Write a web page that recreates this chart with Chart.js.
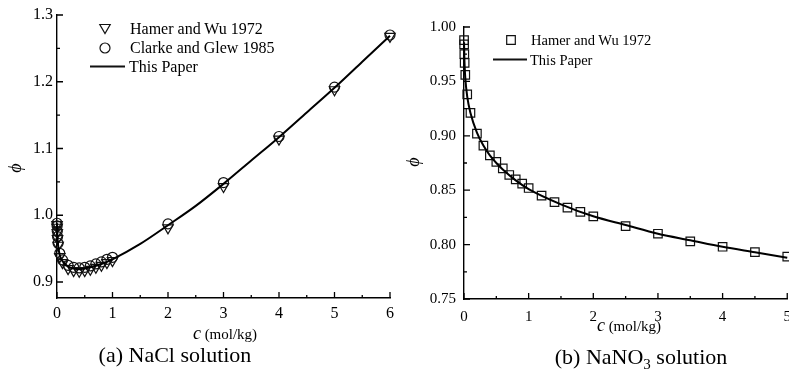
<!DOCTYPE html>
<html>
<head>
<meta charset="utf-8">
<script src="https://cdn.jsdelivr.net/npm/chart.js@4/dist/chart.umd.min.js"></script>
<style>
body { margin:0; width:789px; height:373px; overflow:hidden; background:#fff; position:relative;
       font-family:"Liberation Serif","Times New Roman",serif; color:#000; }
canvas { position:absolute; top:0; }
.t { position:absolute; white-space:nowrap; line-height:1; transform:translate(0,-50%); }
.c { transform:translate(-50%,-50%); }
.phi { position:absolute; font-style:italic; font-size:18px; line-height:1; transform:translate(-50%,-50%) rotate(-90deg); }
</style>
</head>
<body>
<canvas id="graphA" width="400" height="373" style="left:0"></canvas>
<canvas id="graphB" width="400" height="373" style="left:400px"></canvas>

<div class="t" style="left:130px;top:29px;font-size:16px">Hamer and Wu 1972</div>
<div class="t" style="left:130px;top:48px;font-size:16px">Clarke and Glew 1985</div>
<div class="t" style="left:129px;top:66.5px;font-size:16px">This Paper</div>
<div class="t" style="left:531px;top:40px;font-size:14.5px">Hamer and Wu 1972</div>
<div class="t" style="left:530px;top:59.5px;font-size:14.5px">This Paper</div>

<div class="t c" style="left:225px;top:333px;font-size:15px"><i style="font-size:18px">c</i> (mol/kg)</div>
<div class="t c" style="left:629px;top:325px;font-size:15px"><i style="font-size:18px">c</i> (mol/kg)</div>
<div class="t c" style="left:175px;top:355px;font-size:22px">(a) NaCl solution</div>
<div class="t c" style="left:641px;top:357px;font-size:22px">(b) NaNO<sub style="font-size:15px;line-height:0">3</sub> solution</div>
<div class="phi" style="left:15px;top:168px">ϕ</div>
<div class="phi" style="left:413px;top:162px">ϕ</div>

<script>
// (a) NaCl
const naclX = [0.001, 0.002, 0.005, 0.01, 0.02, 0.05, 0.1, 0.2, 0.3, 0.4, 0.5, 0.6, 0.7, 0.8, 0.9, 1.0, 2.0, 3.0, 4.0, 5.0, 6.0];
const naclHamer = [0.986, 0.982, 0.974, 0.965, 0.955, 0.938, 0.929, 0.920, 0.917, 0.916, 0.917, 0.919, 0.922, 0.925, 0.929, 0.932, 0.981, 1.043, 1.114, 1.188, 1.268];
const naclClarke = [0.988, 0.984, 0.976, 0.968, 0.958, 0.943, 0.933, 0.925, 0.922, 0.921, 0.922, 0.924, 0.927, 0.930, 0.934, 0.937, 0.987, 1.049, 1.118, 1.192, 1.270];
const naclModelX = [0.001, 0.005, 0.01, 0.02, 0.05, 0.1, 0.2, 0.3, 0.4, 0.5, 0.6, 0.8, 1.0, 1.5, 2.0, 2.5, 3.0, 3.5, 4.0, 4.5, 5.0, 5.5, 6.0];
const naclModel = [0.988, 0.975, 0.966, 0.955, 0.940, 0.931, 0.923, 0.920, 0.919, 0.920, 0.922, 0.927, 0.934, 0.957, 0.985, 1.014, 1.047, 1.082, 1.117, 1.154, 1.191, 1.230, 1.269];
const naclYTicks = [0.9, 1.0, 1.1, 1.2, 1.3];
const naclXTicks = [0, 1, 2, 3, 4, 5, 6];

// (b) NaNO3
const nano3X = [0.001, 0.002, 0.005, 0.01, 0.02, 0.05, 0.1, 0.2, 0.3, 0.4, 0.5, 0.6, 0.7, 0.8, 0.9, 1.0, 1.2, 1.4, 1.6, 1.8, 2.0, 2.5, 3.0, 3.5, 4.0, 4.5, 5.0];
const nano3Hamer = [0.988, 0.984, 0.975, 0.967, 0.956, 0.938, 0.921, 0.902, 0.891, 0.882, 0.876, 0.870, 0.864, 0.860, 0.856, 0.852, 0.845, 0.839, 0.834, 0.830, 0.826, 0.817, 0.810, 0.803, 0.798, 0.793, 0.789];
const nano3ModelX = [0.001, 0.005, 0.01, 0.02, 0.05, 0.1, 0.2, 0.3, 0.4, 0.5, 0.6, 0.8, 1.0, 1.5, 2.0, 2.5, 3.0, 3.5, 4.0, 4.5, 5.0];
const nano3Model = [0.986, 0.973, 0.964, 0.953, 0.936, 0.921, 0.903, 0.891, 0.882, 0.875, 0.869, 0.859, 0.851, 0.837, 0.826, 0.818, 0.810, 0.804, 0.798, 0.793, 0.788];
const nano3YTicks = [0.75, 0.80, 0.85, 0.90, 0.95, 1.00];
const nano3XTicks = [0, 1, 2, 3, 4, 5];

const pts = (xs, ys) => xs.map((x, i) => ({x: x, y: ys[i]}));

// ticks drawn on the inside of the axes, major + half-step minor
const inwardTicks = {
    id: 'inwardTicks',
    afterDatasetsDraw(chart, args, opts) {
        const ctx = chart.ctx, a = chart.chartArea;
        const xs = chart.scales.x, ys = chart.scales.y;
        const xt = opts.x, yt = opts.y;
        const xStep = xt[1] - xt[0], yStep = yt[1] - yt[0];
        ctx.save();
        ctx.strokeStyle = '#000';
        ctx.lineWidth = 1.3;
        ctx.beginPath();
        xt.forEach(v => {
            const p = xs.getPixelForValue(v);
            ctx.moveTo(p, a.bottom); ctx.lineTo(p, a.bottom - 6);
            const m = xs.getPixelForValue(v + xStep / 2);
            if (m <= a.right + 0.5) { ctx.moveTo(m, a.bottom); ctx.lineTo(m, a.bottom - 3); }
        });
        yt.forEach(v => {
            const p = ys.getPixelForValue(v);
            ctx.moveTo(a.left, p); ctx.lineTo(a.left + 6, p);
            const m = ys.getPixelForValue(v - yStep / 2);
            if (m <= a.bottom - 0.5) { ctx.moveTo(a.left, m); ctx.lineTo(a.left + 3, m); }
        });
        ctx.stroke();
        ctx.restore();
    }
};

// legend symbols
const legendMarks = {
    id: 'legendMarks',
    afterDraw(chart, args, opts) {
        const ctx = chart.ctx;
        ctx.save();
        ctx.strokeStyle = '#111';
        (opts.items || []).forEach(it => {
            ctx.beginPath();
            if (it.type === 'tri') {
                ctx.lineWidth = 1.2;
                ctx.moveTo(it.x - 5.2, it.y - 3.5); ctx.lineTo(it.x + 5.2, it.y - 3.5); ctx.lineTo(it.x, it.y + 5.5); ctx.closePath();
            } else if (it.type === 'circ') {
                ctx.lineWidth = 1.2;
                ctx.arc(it.x, it.y, 5, 0, Math.PI * 2);
            } else if (it.type === 'sq') {
                ctx.lineWidth = 1.2;
                ctx.rect(it.x - 4.3, it.y - 4.3, 8.6, 8.6);
            } else {
                ctx.lineWidth = 2;
                ctx.moveTo(it.x, it.y); ctx.lineTo(it.x2, it.y);
            }
            ctx.stroke();
        });
        ctx.restore();
    }
};

function panel(id, datasets, cfg) {
    return new Chart(document.getElementById(id), {
        type: 'scatter',
        data: { datasets: datasets },
        options: {
            responsive: false,
            animation: false,
            events: [],
            layout: { padding: cfg.padding },
            plugins: {
                legend: { display: false },
                tooltip: { enabled: false },
                inwardTicks: { x: cfg.xTicks, y: cfg.yTicks },
                legendMarks: { items: cfg.legend }
            },
            scales: {
                x: {
                    type: 'linear', min: cfg.xMin, max: cfg.xMax,
                    afterFit: s => { s.height = 30; },
                    afterBuildTicks: s => { s.ticks = cfg.xTicks.map(v => ({value: v})); },
                    grid: { display: false, drawTicks: false },
                    border: { display: true, color: '#000', width: 1.4 },
                    ticks: { color: '#000', padding: cfg.xPad, maxRotation: 0, autoSkip: false,
                             font: { family: 'Liberation Serif', size: cfg.font },
                             callback: v => String(v) }
                },
                y: {
                    type: 'linear', min: cfg.yMin, max: cfg.yMax,
                    afterFit: s => { s.width = cfg.yWidth; },
                    afterBuildTicks: s => { s.ticks = cfg.yTicks.map(v => ({value: v})); },
                    grid: { display: false, drawTicks: false },
                    border: { display: true, color: '#000', width: 1.4 },
                    ticks: { color: '#000', padding: cfg.yPad, autoSkip: false,
                             font: { family: 'Liberation Serif', size: cfg.font },
                             callback: v => v.toFixed(cfg.dec) }
                }
            }
        },
        plugins: [inwardTicks, legendMarks]
    });
}

const markerBase = { showLine: false, backgroundColor: 'rgba(0,0,0,0)', borderColor: '#111', borderWidth: 1.2, clip: false };
const lineBase = { showLine: true, pointRadius: 0, borderColor: '#000', borderWidth: 2, cubicInterpolationMode: 'monotone', clip: false };

panel('graphA', [
    Object.assign({ label: 'This Paper', data: pts(naclModelX, naclModel) }, lineBase),
    Object.assign({ label: 'Hamer and Wu 1972', data: pts(naclX, naclHamer), pointStyle: 'triangle', rotation: 180, pointRadius: 6 }, markerBase),
    Object.assign({ label: 'Clarke and Glew 1985', data: pts(naclX, naclClarke), pointStyle: 'circle', pointRadius: 5 }, markerBase)
], {
    padding: { left: 0, right: 6, top: 15, bottom: 45 },
    xMin: 0, xMax: 6, yMin: 0.876, yMax: 1.3,
    xTicks: naclXTicks, yTicks: naclYTicks, dec: 1,
    yWidth: 57, xPad: 6, yPad: 4, font: 16,
    legend: [
        { type: 'tri', x: 105, y: 28 },
        { type: 'circ', x: 105, y: 48 },
        { type: 'line', x: 90, x2: 125, y: 66.5 }
    ]
});

panel('graphB', [
    Object.assign({ label: 'This Paper', data: pts(nano3ModelX, nano3Model) }, lineBase),
    Object.assign({ label: 'Hamer and Wu 1972', data: pts(nano3X, nano3Hamer), pointStyle: 'rect', pointRadius: 6 }, markerBase)
], {
    padding: { left: 0, right: 10, top: 27, bottom: 44 },
    xMin: 0, xMax: 5, yMin: 0.75, yMax: 1.0,
    xTicks: nano3XTicks, yTicks: nano3YTicks, dec: 2,
    yWidth: 64, xPad: 9, yPad: 8, font: 15,
    legend: [
        { type: 'sq', x: 111, y: 40 },
        { type: 'line', x: 93, x2: 127, y: 59.5 }
    ]
});
</script>
</body>
</html>
